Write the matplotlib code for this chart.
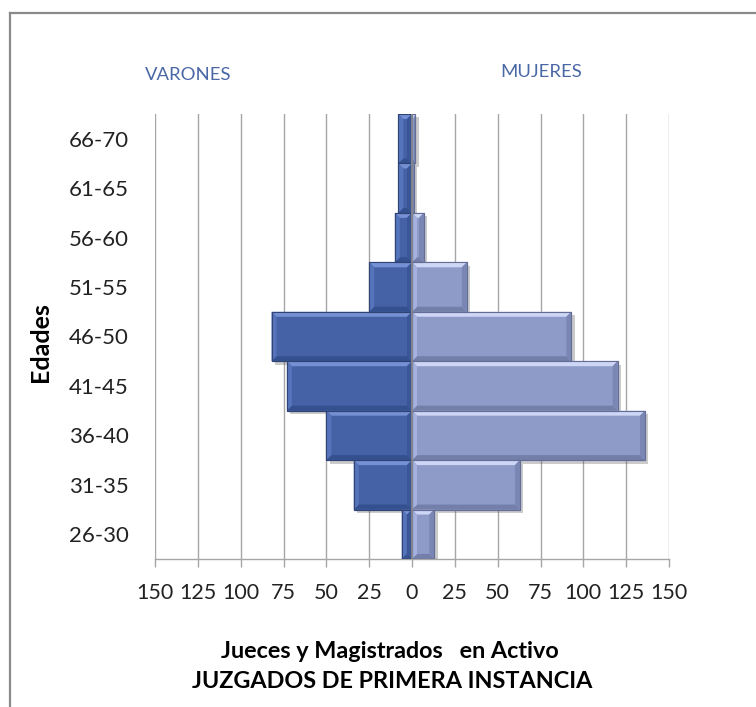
import matplotlib
matplotlib.use("Agg")
import matplotlib.pyplot as plt
from matplotlib.patches import Polygon, Rectangle
from matplotlib.lines import Line2D
import matplotlib.patheffects as pe

# Age groups (bottom to top) and number of judges per group
ages = ['26-30', '31-35', '36-40', '41-45', '46-50', '51-55', '56-60', '61-65', '66-70']
varones = [6, 34, 50, 73, 82, 25, 10, 8, 8]
mujeres = [13, 63, 136, 120, 93, 32, 7, 1, 2]

tick_values = [-150, -125, -100, -75, -50, -25, 0, 25, 50, 75, 100, 125, 150]
tick_labels = [str(abs(v)) for v in tick_values]

FONT = 'Lato'
W, H, DPI = 756, 707, 100
fig = plt.figure(figsize=(W / DPI, H / DPI), dpi=DPI)
fig.patch.set_facecolor('white')

ax_l, ax_r, ax_t, ax_b = 155, 669, 114, 559
ax = fig.add_axes([ax_l / W, 1 - ax_b / H, (ax_r - ax_l) / W, (ax_b - ax_t) / H])
ax.set_xlim(-150, 150)
ax.set_ylim(-0.5, len(ages) - 0.5)

# pixels per data unit, used for the bevel width
ppx = (ax_r - ax_l) / 300.0
ppy = (ax_b - ax_t) / len(ages)
BEV = 5.0

# vertical gridlines
for v in tick_values:
    if v != 0:
        ax.axvline(v, color='#a6a6a6', lw=1.0, zorder=1)

LEFT_COLS = dict(face='#4662a6', top='#7690d4', bottom='#34508f',
                 left='#5674bb', right='#3a5696', edge='#2f4475')
RIGHT_COLS = dict(face='#8e9ac8', top='#cdd6f5', bottom='#737ea9',
                  left='#a5b1e0', right='#7a86b4', edge='#636d96')


def bevel_bar(ax, a, b, yc, h, c):
    L, R = min(a, b), max(a, b)
    y0, y1 = yc - h / 2, yc + h / 2
    bx = min(BEV / ppx, (R - L) / 2)
    by = min(BEV / ppy, h / 2)
    base = Rectangle((L, y0), R - L, h, facecolor=c['face'], edgecolor=c['edge'],
                     lw=0.8, zorder=3)
    base.set_path_effects([pe.SimplePatchShadow(offset=(2.5, -2.5), shadow_rgbFace='#555555',
                                                alpha=0.3), pe.Normal()])
    ax.add_patch(base)
    facets = [
        ([(L, y1), (R, y1), (R - bx, y1 - by), (L + bx, y1 - by)], c['top']),
        ([(L, y0), (R, y0), (R - bx, y0 + by), (L + bx, y0 + by)], c['bottom']),
        ([(L, y0), (L, y1), (L + bx, y1 - by), (L + bx, y0 + by)], c['left']),
        ([(R, y0), (R, y1), (R - bx, y1 - by), (R - bx, y0 + by)], c['right']),
    ]
    for pts, col in facets:
        ax.add_patch(Polygon(pts, closed=True, facecolor=col, edgecolor='none', zorder=4))
    ax.add_patch(Rectangle((L, y0), R - L, h, facecolor='none', edgecolor=c['edge'],
                           lw=0.8, zorder=5))


for i, (m, f) in enumerate(zip(varones, mujeres)):
    bevel_bar(ax, -m, 0, i, 1.0, LEFT_COLS)
    bevel_bar(ax, 0, f, i, 1.0, RIGHT_COLS)

# vertical axis through zero
ax.axvline(0, color='#8c8c8c', lw=1.2, zorder=6)

for s in ['top', 'right', 'left']:
    ax.spines[s].set_visible(False)
ax.spines['bottom'].set_color('#a6a6a6')
ax.spines['bottom'].set_linewidth(1.0)

ax.set_xticks(tick_values)
ax.set_xticklabels(tick_labels, fontsize=15.5, family=FONT, color='#222222')
ax.tick_params(axis='x', length=6, width=1, color='#a6a6a6', pad=11)
ax.set_yticks(range(len(ages)))
ax.set_yticklabels(ages, fontsize=16, family=FONT, color='#222222')
ax.tick_params(axis='y', length=0, pad=19)

# side labels
fig.text(188 / W, 1 - 75 / H, 'VARONES', ha='center', va='center', fontsize=13.3,
         family=FONT, color='#4a68a6')
fig.text(541 / W, 1 - 72 / H, 'MUJERES', ha='center', va='center', fontsize=13.3,
         family=FONT, color='#4a68a6')

fig.text(41 / W, 1 - 342 / H, 'Edades', ha='center', va='center', rotation=90,
         fontsize=18, fontweight='bold', family=FONT, color='black')

fig.text(390 / W, 1 - 652 / H, 'Jueces y Magistrados   en Activo', ha='center',
         va='center', fontsize=16.8, fontweight='bold', family=FONT, color='black')
fig.text(392 / W, 1 - 682 / H, 'JUZGADOS DE PRIMERA INSTANCIA', ha='center',
         va='center', fontsize=16.8, fontweight='bold', family=FONT, color='black')

# chart frame
fig.add_artist(Line2D([10 / W, 10 / W], [0, 1 - 13 / H], color='#8a8a8a', lw=1.6,
                      transform=fig.transFigure))
fig.add_artist(Line2D([10 / W, 1], [1 - 13 / H, 1 - 13 / H], color='#8a8a8a', lw=1.6,
                      transform=fig.transFigure))

fig.savefig('out.png', dpi=DPI)
